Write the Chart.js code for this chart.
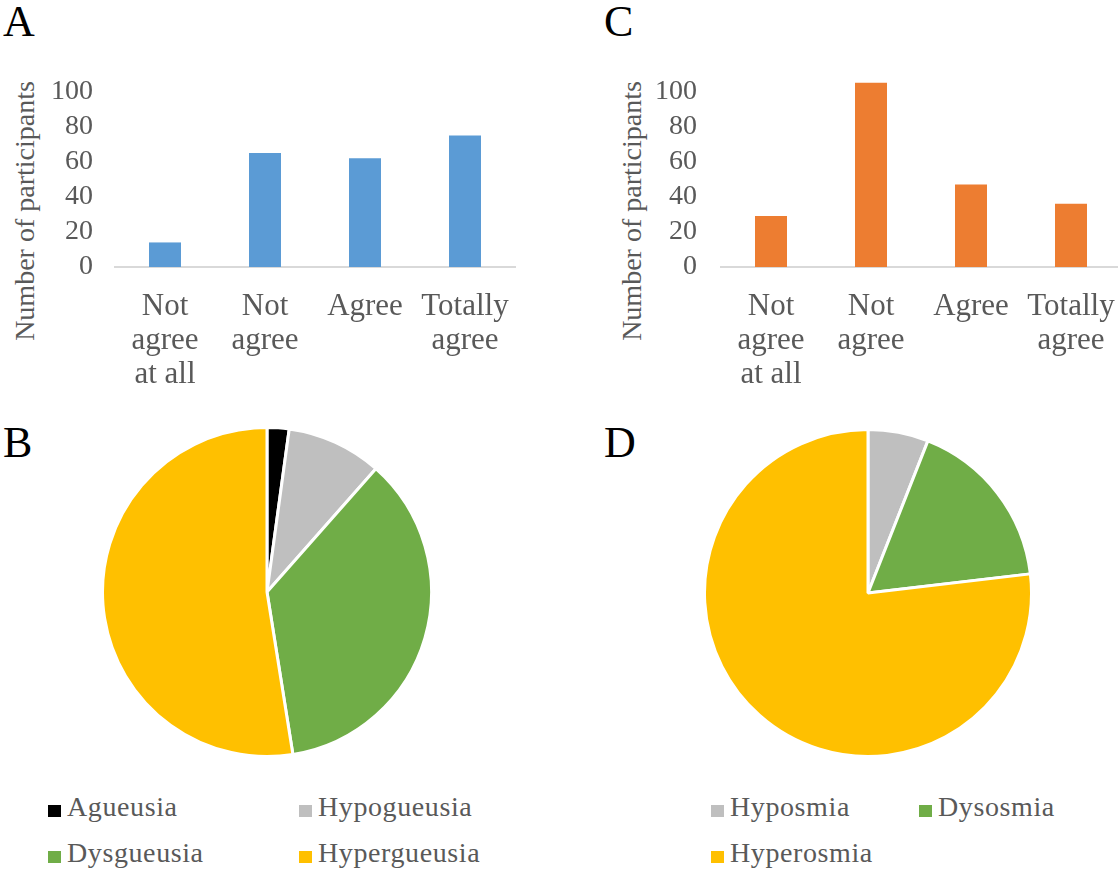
<!DOCTYPE html>
<html>
<head>
<meta charset="utf-8">
<script src="https://cdn.jsdelivr.net/npm/chart.js@4/dist/chart.umd.min.js"></script>
<style>
  body { margin: 0; background: #fff; }
  #page { position: relative; width: 1118px; height: 871px; overflow: hidden; font-family: 'Liberation Serif', 'Times New Roman', serif; }
  canvas { position: absolute; }
  .letter { position: absolute; font-size: 44px; line-height: 44px; color: #000; }
  .ytitle { position: absolute; font-size: 28px; line-height: 28px; color: #595959; white-space: nowrap; transform: translate(-50%, -50%) rotate(-90deg); }
  .lg { position: absolute; font-size: 28px; line-height: 28px; color: #595959; white-space: nowrap; letter-spacing: 0.6px; }
  .lg i { position: absolute; left: -19px; top: 12px; width: 13px; height: 12px; }
</style>
</head>
<body>
<div id="page">
  <div class="letter" style="left:3px; top:0px;">A</div>
  <div class="letter" style="left:604px; top:0px;">C</div>
  <div class="letter" style="left:3px; top:421px;">B</div>
  <div class="letter" style="left:604px; top:421px;">D</div>

  <div class="ytitle" style="left:25px; top:211px;">Number of participants</div>
  <div class="ytitle" style="left:632px; top:211px;">Number of participants</div>

  <canvas id="chartA" width="520" height="400" style="left:0; top:0;"></canvas>
  <canvas id="chartC" width="522" height="400" style="left:600px; top:0;"></canvas>
  <canvas id="chartB" width="332" height="332" style="left:101px; top:426px;"></canvas>
  <canvas id="chartD" width="330" height="330" style="left:703px; top:428px;"></canvas>

  <div id="legendB"></div>
  <div id="legendD"></div>
</div>
<script>
// datos de las graficas
const categorias = [['Not', 'agree', 'at all'], ['Not', 'agree'], 'Agree', ['Totally', 'agree']];
const gustoAcuerdo = [14, 65, 62, 75];   // panel A
const olfatoAcuerdo = [29, 105, 47, 36]; // panel C
const ticksY = [0, 20, 40, 60, 80, 100];

const tiposGusto = ['Agueusia', 'Hypogueusia', 'Dysgueusia', 'Hypergueusia'];
const cuentasGusto = [3, 13, 50, 73];    // panel B
const tiposOlfato = ['Hyposmia', 'Dysosmia', 'Hyperosmia'];
const cuentasOlfato = [8, 23, 103];      // panel D

const coloresGusto = ['#000000', '#BFBFBF', '#70AD47', '#FFC000'];
const coloresOlfato = ['#BFBFBF', '#70AD47', '#FFC000'];

Chart.defaults.font.family = "'Liberation Serif', 'Times New Roman', serif";
Chart.defaults.color = '#595959';
Chart.defaults.animation = false;

function barChart(id, datos, color, anchoEjeY, padTicksY, padDer) {
    var ctx = document.getElementById(id).getContext('2d');
    new Chart(ctx, {
        type: 'bar',
        data: {
            labels: categorias,
            datasets: [{
                data: datos,
                backgroundColor: color,
                borderWidth: 0,
                barPercentage: 0.32,
                categoryPercentage: 1
            }]
        },
        options: {
            responsive: false,
            layout: { padding: { top: 74, right: padDer, left: 0, bottom: 0 } },
            plugins: { legend: { display: false }, tooltip: { enabled: false } },
            scales: {
                x: {
                    grid: { display: false, drawTicks: false },
                    border: { color: '#D9D9D9', width: 2 },
                    ticks: {
                        font: { size: 31, lineHeight: 1.1 },
                        padding: 23,
                        maxRotation: 0,
                        autoSkip: false
                    },
                    afterFit: s => { s.height = 133; s.paddingLeft = 0; s.paddingRight = 0; }
                },
                y: {
                    min: 0,
                    max: 110,
                    grid: { display: false, drawTicks: false },
                    border: { display: false },
                    ticks: { font: { size: 28 }, padding: padTicksY },
                    afterBuildTicks: s => { s.ticks = ticksY.map(v => ({ value: v })); },
                    afterFit: s => { s.width = anchoEjeY; }
                }
            }
        }
    });
}

function pieChart(id, nombres, datos, colores) {
    var ctx = document.getElementById(id).getContext('2d');
    new Chart(ctx, {
        type: 'pie',
        data: {
            labels: nombres,
            datasets: [{
                data: datos,
                backgroundColor: colores,
                borderColor: '#FFFFFF',
                borderWidth: 3
            }]
        },
        options: {
            responsive: false,
            plugins: { legend: { display: false }, tooltip: { enabled: false } }
        }
    });
}

// leyenda en html, dos columnas
function leyenda(id, nombres, colores, columnas) {
    var cont = document.getElementById(id);
    nombres.forEach((n, i) => {
        var col = i % 2, fila = Math.floor(i / 2);
        var d = document.createElement('div');
        d.className = 'lg';
        d.style.left = columnas[col] + 'px';
        d.style.top = (793 + fila * 46) + 'px';
        d.innerHTML = '<i style="background:' + colores[i] + '"></i>' + n;
        cont.appendChild(d);
    });
}

barChart('chartA', gustoAcuerdo, '#5B9BD5', 115, 22, 5);
barChart('chartC', olfatoAcuerdo, '#ED7D31', 121, 24, 1);
pieChart('chartB', tiposGusto, cuentasGusto, coloresGusto);
pieChart('chartD', tiposOlfato, cuentasOlfato, coloresOlfato);
leyenda('legendB', tiposGusto, coloresGusto, [67, 318]);
leyenda('legendD', tiposOlfato, coloresOlfato, [730, 938]);
</script>
</body>
</html>
